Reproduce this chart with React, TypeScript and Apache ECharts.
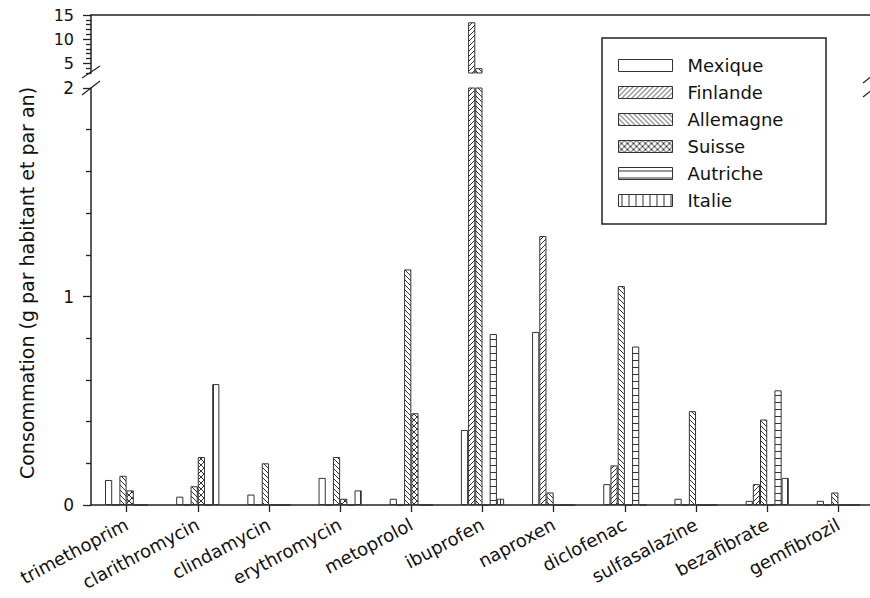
import { useEffect, useRef } from "react";
import * as echarts from "echarts";

const categories = [
  "trimethoprim", "clarithromycin", "clindamycin", "erythromycin", "metoprolol",
  "ibuprofen", "naproxen", "diclofenac", "sulfasalazine", "bezafibrate", "gemfibrozil",
];
const countries = ["Mexique", "Finlande", "Allemagne", "Suisse", "Autriche", "Italie"];

const mexique = [0.12, 0.04, 0.05, 0.13, 0.03, 0.36, 0.83, 0.1, 0.03, 0.02, 0.02];
const finlande = [0, 0, 0, 0, 0, 13.5, 1.29, 0.19, 0, 0.1, 0];
const allemagne = [0.14, 0.09, 0.2, 0.23, 1.13, 4.0, 0.06, 1.05, 0.45, 0.41, 0.06];
const suisse = [0.07, 0.23, 0, 0.03, 0.44, 0, 0, 0, 0, 0, 0];
const autriche = [0, 0, 0, 0, 0, 0.82, 0, 0.76, 0, 0.55, 0];
const italie = [0, 0.58, 0, 0.07, 0, 0.03, 0, 0, 0, 0.13, 0];

const lowerRange = [0, 2];
const upperRange = [3, 15];
const upperMajorTicks = [5, 10, 15];
const upperMinorTicks = [3, 4, 6, 7, 8, 9, 11, 12, 13, 14];

const FONT = "DejaVu Sans";
const INK = "#222";

function makePattern(kind: string) {
  const s = kind === "h" || kind === "v" ? 7 : kind === "x" ? 6 : 5;
  const c = document.createElement("canvas");
  c.width = s;
  c.height = s;
  const ctx = c.getContext("2d")!;
  ctx.fillStyle = "#fff";
  ctx.fillRect(0, 0, s, s);
  ctx.strokeStyle = "#333";
  ctx.lineWidth = 1;
  ctx.beginPath();
  if (kind === "f" || kind === "x") {
    ctx.moveTo(0, s); ctx.lineTo(s, 0);
    ctx.moveTo(-1, 1); ctx.lineTo(1, -1);
    ctx.moveTo(s - 1, s + 1); ctx.lineTo(s + 1, s - 1);
  }
  if (kind === "b" || kind === "x") {
    ctx.moveTo(0, 0); ctx.lineTo(s, s);
    ctx.moveTo(-1, s - 1); ctx.lineTo(1, s + 1);
    ctx.moveTo(s - 1, -1); ctx.lineTo(s + 1, 1);
  }
  if (kind === "h") { ctx.moveTo(0, 3.5); ctx.lineTo(s, 3.5); }
  if (kind === "v") { ctx.moveTo(3.5, 0); ctx.lineTo(3.5, s); }
  ctx.stroke();
  return { image: c, repeat: "repeat", imageWidth: s, imageHeight: s };
}

export default function App() {
  const ref = useRef<HTMLDivElement>(null);
  useEffect(() => {
    if (!ref.current) return;
    const chart = echarts.init(ref.current, null, { renderer: "svg" });
    const values = [mexique, finlande, allemagne, suisse, autriche, italie];
    const fills: any[] = ["#fff", makePattern("f"), makePattern("b"), makePattern("x"), makePattern("h"), makePattern("v")];
    const series: any[] = [];
    [0, 1].forEach((g) =>
      countries.forEach((name, i) =>
        series.push({
          type: "bar",
          name,
          xAxisIndex: g,
          yAxisIndex: g,
          data: values[i],
          barWidth: 7.2,
          barGap: "0%",
          clip: true,
          silent: true,
          itemStyle: { color: fills[i], borderColor: "#333", borderWidth: 1 },
          emphasis: { disabled: true },
        })
      )
    );
    const axisLine = { show: true, lineStyle: { color: INK, width: 1.5 } };
    const tickStyle = { color: INK, width: 1.3 };
    const labelStyle = { fontFamily: FONT, color: "#111" };
    chart.setOption({
      animation: false,
      textStyle: { fontFamily: FONT },
      grid: [
        { left: 91, top: 88, width: 783, height: 417, outerBoundsMode: "none", containLabel: false },
        { left: 91, top: 15, width: 783, height: 58, outerBoundsMode: "none", containLabel: false },
      ],
      xAxis: [
        {
          type: "category", gridIndex: 0, data: categories, boundaryGap: true,
          axisLine,
          axisTick: { show: true, alignWithLabel: true, interval: 0, length: 7, lineStyle: tickStyle },
          axisLabel: { ...labelStyle, interval: 0, rotate: 28, margin: 18, fontSize: 18 },
          splitLine: { show: false },
        },
        {
          type: "category", gridIndex: 1, data: categories, position: "top", boundaryGap: true,
          axisLine, axisTick: { show: false }, axisLabel: { show: false }, splitLine: { show: false },
        },
      ],
      yAxis: [
        {
          type: "value", gridIndex: 0, min: lowerRange[0], max: lowerRange[1], interval: 1,
          axisLine,
          axisTick: { show: true, length: 8, lineStyle: tickStyle },
          minorTick: { show: true, splitNumber: 5, length: 5, lineStyle: tickStyle },
          axisLabel: { ...labelStyle, margin: 17, fontSize: 17 },
          splitLine: { show: false }, minorSplitLine: { show: false },
        },
        {
          type: "value", gridIndex: 1, min: upperRange[0], max: upperRange[1], position: "left",
          axisLine,
          axisTick: { show: true, length: 8, lineStyle: tickStyle, customValues: upperMajorTicks },
          axisLabel: { ...labelStyle, margin: 17, fontSize: 16, customValues: upperMajorTicks },
          splitLine: { show: false },
        },
        {
          type: "value", gridIndex: 1, min: upperRange[0], max: upperRange[1], position: "left",
          axisLine: { show: false },
          axisTick: { show: true, length: 5, lineStyle: tickStyle, customValues: upperMinorTicks },
          axisLabel: { show: false },
          splitLine: { show: false },
        },
      ],
      legend: {
        orient: "vertical", left: 618, top: 52, padding: 0,
        itemWidth: 54, itemHeight: 12, itemGap: 0, icon: "rect",
        data: countries, selectedMode: false,
        itemStyle: { borderColor: "#333", borderWidth: 1 },
        textStyle: { ...labelStyle, fontSize: 18, lineHeight: 27, padding: [0, 0, 0, 10] },
      },
      graphic: [
        {
          type: "text", x: 27, y: 283, rotation: Math.PI / 2,
          style: {
            text: "Consommation (g par habitant et par an)", fontFamily: FONT, fontSize: 19,
            fill: "#111", align: "center", verticalAlign: "middle",
          },
        },
        {
          type: "rect", shape: { x: 602, y: 38, width: 224, height: 186 },
          style: { fill: "none", stroke: INK, lineWidth: 1.5 },
        },
        { type: "line", shape: { x1: 82, y1: 78, x2: 100, y2: 66 }, style: { stroke: INK, lineWidth: 1.2 } },
        { type: "line", shape: { x1: 82, y1: 95, x2: 100, y2: 81 }, style: { stroke: INK, lineWidth: 1.2 } },
        { type: "line", shape: { x1: 863, y1: 83, x2: 873, y2: 75 }, style: { stroke: INK, lineWidth: 1.2 } },
        { type: "line", shape: { x1: 863, y1: 97, x2: 873, y2: 89 }, style: { stroke: INK, lineWidth: 1.2 } },
      ],
      series,
    });
    return () => chart.dispose();
  }, []);
  return (
    <div
      ref={ref}
      style={{ position: "fixed", left: 0, top: 0, width: 870, height: 598, background: "#fff" }}
    />
  );
}
